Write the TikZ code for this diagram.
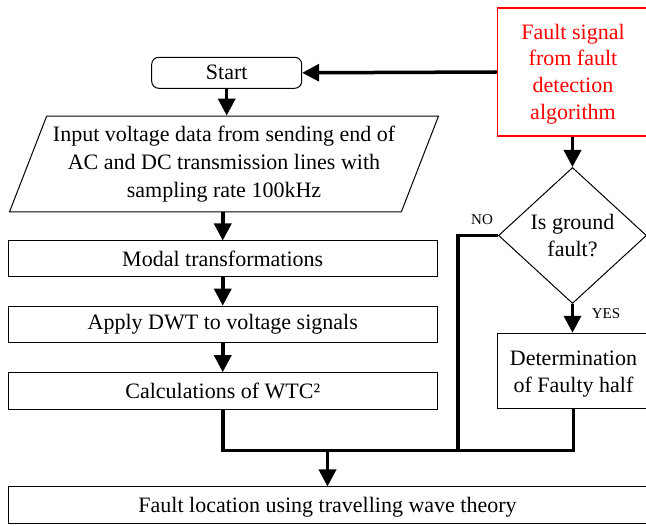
\documentclass[tikz,border=0pt]{standalone}
\usepackage{fontspec}
\setmainfont{Liberation Serif}
\usetikzlibrary{arrows.meta,shapes.geometric}
\begin{document}
\begin{tikzpicture}[x=1pt,y=-1pt,
  box/.style={draw=black,line width=1pt,inner sep=0pt,font=\fontsize{22}{27}\selectfont,align=center},
  redbox/.style={draw=red,line width=1.5pt,inner sep=0pt,text=red,font=\fontsize{22}{26.7}\selectfont,align=center},
  conn/.style={line width=3.5pt},
  arr/.style={line width=3.5pt,-{Triangle[length=17pt,width=17pt]}},
  lab/.style={font=\fontsize{15}{18}\selectfont,inner sep=0pt}]
\clip (0,0) rectangle (646,526);
\fill[white] (0,0) rectangle (646,526);
% nodes
\node[box,rounded corners=7pt,minimum width=150pt,minimum height=31pt] (start) at (226.7,72.8) {Start};
\node[redbox,minimum width=151pt,minimum height=128pt] (fault) at (573,72) {\rule{0pt}{19pt}Fault signal\\from fault\\detection\\algorithm};
\node[box,trapezium,trapezium left angle=65,trapezium right angle=115,trapezium stretches=true,
      minimum width=430pt,minimum height=95.7pt,font=\fontsize{22}{28.3}\selectfont] (input) at (224,164)
      {Input voltage data from sending end of\\AC and DC transmission lines with\\sampling rate 100kHz};
\node[box,minimum width=429.5pt,minimum height=36pt] (modal) at (222.75,259) {Modal transformations};
\node[box,minimum width=429.5pt,minimum height=36pt] (dwt) at (222.75,324.2) {Apply DWT to voltage signals};
\node[box,minimum width=429.5pt,minimum height=36.6pt] (wtc) at (222.75,391) {Calculations of WTC²};
\node[box,diamond,minimum width=148pt,minimum height=136pt,shape aspect=1.09] (dia) at (572.5,235.5) {Is ground\\fault?};
\node[box,minimum width=152pt,minimum height=75pt] (det) at (573.5,370.8) {\rule{0pt}{21pt}Determination\\of Faulty half};
\node[box,minimum width=639pt,minimum height=37pt] (loc) at (327.5,505.5) {\rule{0pt}{19pt}Fault location using travelling wave theory};
\node[lab] (no) at (482,219.5) {NO};
\node[lab] (yes) at (606,313.5) {YES};
% junction coordinates
\coordinate (jl) at (222.75,450.5);
\coordinate (jn) at (458,450.5);
\coordinate (jr) at (573.5,450.5);
% connectors
\draw[arr] (fault.west) -- (start.east);
\draw[arr] (start.south) -- (start.south |- input.north);
\draw[arr] (input.south -| modal.north) -- (modal.north);
\draw[arr] (modal.south) -- (dwt.north);
\draw[arr] (dwt.south) -- (wtc.north);
\draw[arr] (fault.south -| dia.north) -- (dia.north);
\draw[arr] (dia.south) -- (dia.south |- det.north);
\draw[conn] (wtc.south) -- (jl) -- (jr) -- (det.south);
\draw[conn] (dia.west) -| (jn);
\draw[arr] (loc.north |- jl) -- (loc.north);
\end{tikzpicture}
\end{document}
